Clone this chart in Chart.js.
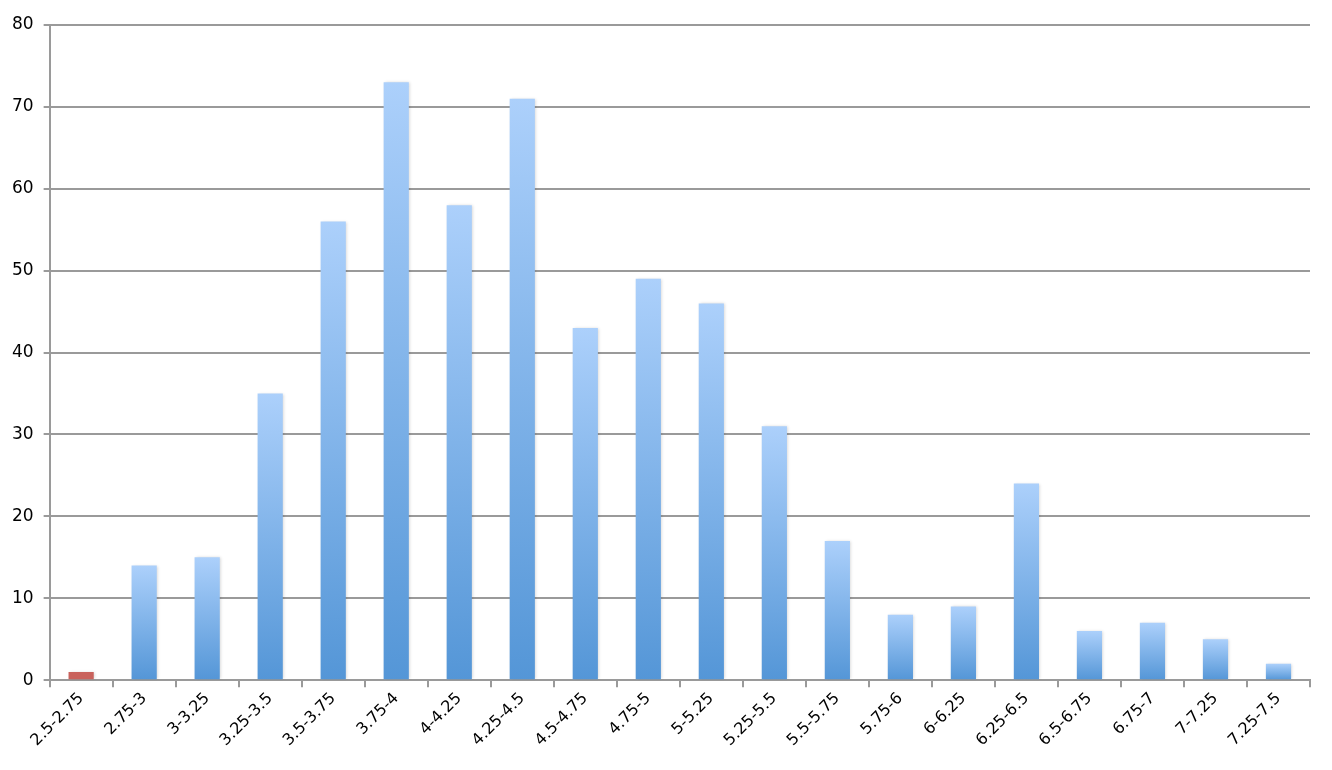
<!DOCTYPE html>
<html>
<head>
<meta charset="utf-8">
<script src="https://cdn.jsdelivr.net/npm/chart.js@4"></script>
<style>
  html, body { margin: 0; padding: 0; background: #fff; }
  #wrap { width: 1332px; height: 770px; }
</style>
</head>
<body>
<div id="wrap"><canvas id="chart1" width="1332" height="770"></canvas></div>
<script>
// Categories (bins) and counts
const labels = ['2.5-2.75', '2.75-3', '3-3.25', '3.25-3.5', '3.5-3.75', '3.75-4', '4-4.25', '4.25-4.5',
    '4.5-4.75', '4.75-5', '5-5.25', '5.25-5.5', '5.5-5.75', '5.75-6', '6-6.25', '6.25-6.5',
    '6.5-6.75', '6.75-7', '7-7.25', '7.25-7.5']
const counts = [1, 14, 15, 35, 56, 73, 58, 71, 43, 49, 46, 31, 17, 8, 9, 24, 6, 7, 5, 2]
const yTicks = [0, 10, 20, 30, 40, 50, 60, 70, 80]

const gridGray = '#9a9a9a'

// each bar gets its own light-to-dark gradient, red for the first bin
function barFill(c) {
    if (c.dataIndex === 0) return '#c9625c'
    const chart = c.chart
    const y = chart.scales && chart.scales.y
    if (!y || c.raw === undefined) return '#7eb0ea'
    const top = y.getPixelForValue(c.raw)
    const base = y.getPixelForValue(0)
    if (!isFinite(top) || !isFinite(base) || top === base) return '#7eb0ea'
    const g = chart.ctx.createLinearGradient(0, top, 0, base)
    g.addColorStop(0, '#acd0fb')
    g.addColorStop(1, '#5496d7')
    return g
}

// soft shadow behind the bars
const shadowPlugin = {
    id: 'barShadow',
    beforeDatasetDraw(chart) {
        const ctx = chart.ctx
        ctx.save()
        ctx.shadowColor = 'rgba(0,0,0,0.18)'
        ctx.shadowBlur = 3
        ctx.shadowOffsetX = 1
        ctx.shadowOffsetY = 0
    },
    afterDatasetDraw(chart) {
        chart.ctx.restore()
    }
}

const ctx = document.getElementById('chart1').getContext('2d')
const chart1 = new Chart(ctx, {
    type: 'bar',
    data: {
        labels: labels,
        datasets: [{
            label: 'Count',
            data: counts,
            backgroundColor: barFill,
            borderWidth: 0,
            barPercentage: 0.4,
            categoryPercentage: 1
        }]
    },
    plugins: [shadowPlugin],
    options: {
        responsive: false,
        animation: false,
        layout: { padding: { left: 2, top: 25, right: 22, bottom: 18 } },
        plugins: {
            legend: { display: false },
            tooltip: { enabled: false }
        },
        scales: {
            x: {
                grid: {
                    display: true,
                    drawOnChartArea: false,
                    drawTicks: true,
                    tickLength: 7,
                    color: gridGray,
                    lineWidth: 2
                },
                border: { display: true, color: gridGray, width: 2 },
                ticks: {
                    color: '#000',
                    font: { family: '"DejaVu Sans", Verdana, sans-serif', size: 16 },
                    minRotation: 45,
                    maxRotation: 45,
                    autoSkip: false,
                    padding: 2
                }
            },
            y: {
                min: 0,
                max: 80,
                afterBuildTicks(axis) {
                    axis.ticks = yTicks.map(v => ({ value: v }))
                },
                grid: {
                    color: gridGray,
                    lineWidth: 2,
                    drawTicks: true,
                    tickLength: 6
                },
                border: { display: true, color: gridGray, width: 2 },
                ticks: {
                    color: '#000',
                    font: { family: '"DejaVu Sans", Verdana, sans-serif', size: 17 },
                    padding: 10
                }
            }
        }
    }
})
</script>
</body>
</html>
